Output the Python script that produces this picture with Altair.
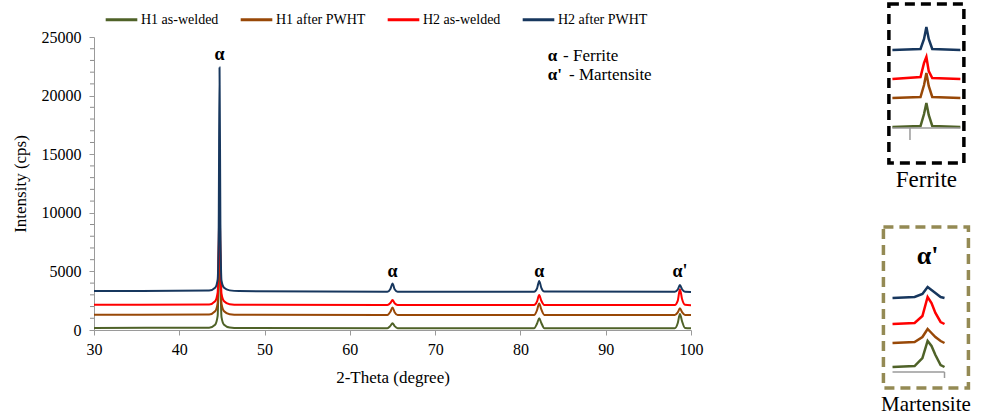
import altair as alt
import pandas as pd

# ---------------- data ----------------
series = ["H1 as-welded", "H1 after PWHT", "H2 as-welded", "H2 after PWHT"]
colors = ["#4F6228", "#984807", "#FF0000", "#17375E"]

two_theta = [30, 43.5, 44.2, 44.5, 44.62, 44.72, 44.82, 44.95, 45.25, 45.9, 47.0,
             64.4, 64.75, 65.0, 65.25, 65.6,
             81.6, 81.95, 82.2, 82.45, 82.8,
             98.1, 98.45, 98.7, 98.95, 99.3, 100]

h1_as_welded = [180, 200, 450, 1200, 5000, 9000, 4500, 1100, 450, 220, 170,
                150, 350, 570, 330, 150,
                150, 550, 1000, 600, 160,
                150, 600, 1360, 750, 170, 150]
h1_after_pwht = [1300, 1330, 1600, 2300, 6000, 10000, 5600, 2250, 1600, 1350, 1300,
                 1280, 1550, 1930, 1520, 1280,
                 1280, 1700, 2270, 1750, 1290,
                 1280, 1500, 1850, 1520, 1280, 1270]
h2_as_welded = [2150, 2180, 2450, 3200, 7000, 11000, 6500, 3100, 2450, 2200, 2150,
                2130, 2300, 2550, 2280, 2130,
                2130, 2450, 2980, 2500, 2140,
                2130, 2500, 3480, 2650, 2150, 2120]
h2_after_pwht = [3330, 3360, 3600, 4300, 8500, 22400, 9000, 4200, 3600, 3380, 3320,
                 3270, 3500, 3970, 3480, 3270,
                 3270, 3550, 4190, 3600, 3280,
                 3260, 3450, 3830, 3480, 3260, 3250]

x_ticks = [30, 40, 50, 60, 70, 80, 90, 100]
y_ticks = [0, 5000, 10000, 15000, 20000, 25000]
y_minor_ticks = [1000, 2000, 3000, 4000, 6000, 7000, 8000, 9000, 11000, 12000, 13000,
                 14000, 16000, 17000, 18000, 19000, 21000, 22000, 23000, 24000]

peak_x = [44.72, 65.0, 82.2, 98.7]
peak_y = [23500, 4950, 4950, 4950]
peak_labels = ["α", "α", "α", "α'"]

key_symbols = ["α", "α'"]
key_names = ["- Ferrite", "- Martensite"]
key_sym_x = [83.2, 83.2]
key_name_x = [85.0, 85.7]
key_y = [23350, 21800]

# inset: ferrite (offset intensity, a.u.)
ferrite_x = [43.35, 44.55, 44.7, 44.8, 44.9, 45.05, 46.25]
ferrite_h1_aw = [36, 37, 49, 60, 48, 37, 36]
ferrite_h1_pw = [65, 66, 78, 90, 77, 66, 65]
ferrite_h2_aw = [84, 86, 100, 106, 92, 85, 84]
ferrite_h2_pw = [113, 114, 124, 136, 124, 114, 113]
ferrite_axis_x = [43.35, 46.25]
ferrite_axis_y = 35
ferrite_tick_x = 44.1
ferrite_tick_y = [35, 23]

# inset: martensite (offset intensity, a.u.)
mart_x = [97.35, 98.2, 98.5, 98.7, 98.85, 99.0, 99.2, 99.35]
mart_h1_aw = [21, 22, 30, 47, 42, 33, 23, 21]
mart_h1_pw = [45, 46, 51, 59, 55, 51, 47, 45]
mart_h2_aw = [64, 65, 72, 91, 85, 75, 66, 64]
mart_h2_pw = [90, 91, 94, 101, 98, 95, 91, 90]
mart_axis_x = [97.35, 99.35]
mart_axis_y = 16
mart_tick_x = 99.35
mart_tick_y = [16, 10]
mart_label = ["α'"]
mart_label_x = [98.7]
mart_label_y = [132]

FONT = "Liberation Serif"
AXIS_GRAY = "#9A9A9A"


def long_df(xs, lists):
    rows = []
    for name, vals in zip(series, lists):
        for i, (x, y) in enumerate(zip(xs, vals)):
            rows.append({"series": name, "order": i, "two_theta": x, "intensity": y})
    return pd.DataFrame(rows)


main_df = long_df(two_theta, [h1_as_welded, h1_after_pwht, h2_as_welded, h2_after_pwht])
ferrite_df = long_df(ferrite_x, [ferrite_h1_aw, ferrite_h1_pw, ferrite_h2_aw, ferrite_h2_pw])
mart_df = long_df(mart_x, [mart_h1_aw, mart_h1_pw, mart_h2_aw, mart_h2_pw])

color_scale = alt.Scale(domain=series, range=colors)

MAIN_W, MAIN_H, MAIN_TOP = 597, 326, 33
xs_main = alt.Scale(domain=[30, 100], nice=False, zero=False)
ys_main = alt.Scale(domain=[0, 25000], nice=False, range=[MAIN_H, MAIN_TOP])

# ---------------- main chart ----------------
x_main = alt.X("two_theta:Q", scale=xs_main,
               axis=alt.Axis(title="2-Theta (degree)", values=x_ticks,
                             grid=False, tickSize=5, labelPadding=6, titlePadding=12,
                             labelFlush=False, labelOverlap=False,
                             labelFontSize=16, titleFontSize=17,
                             domainColor=AXIS_GRAY, tickColor=AXIS_GRAY))
y_main = alt.Y("intensity:Q", scale=ys_main,
               axis=alt.Axis(title="Intensity (cps)", values=y_ticks,
                             labelOverlap=False, labelFlush=False, format="d", grid=False,
                             tickSize=5, labelPadding=8, titlePadding=12, labelFontSize=16,
                             titleFontSize=17,
                             domainColor=AXIS_GRAY, tickColor=AXIS_GRAY))

lines = alt.Chart(main_df).mark_line(strokeWidth=2, interpolate="monotone").encode(
    x=x_main, y=y_main,
    color=alt.Color("series:N", scale=color_scale,
                    legend=alt.Legend(title=None, orient="none", legendX=10, legendY=-2,
                                      direction="horizontal", symbolType="stroke",
                                      symbolSize=1000, symbolStrokeWidth=3,
                                      labelFont=FONT, labelFontSize=14, labelColor="black",
                                      labelOffset=2, columnPadding=15)),
    order="order:Q",
)

minor_df = pd.DataFrame({"intensity": y_minor_ticks})
minor = alt.Chart(minor_df).mark_rule(color="#8C8C8C", strokeWidth=1).encode(
    x=alt.value(-4), x2=alt.value(0), y=y_main,
)

peaks_df = pd.DataFrame({"two_theta": peak_x, "intensity": peak_y, "label": peak_labels})
peak_text = alt.Chart(peaks_df).mark_text(font=FONT, fontSize=18, fontWeight="bold",
                                          color="black").encode(
    x=x_main, y=y_main, text="label:N")

key_sym_df = pd.DataFrame({"two_theta": key_sym_x, "intensity": key_y, "label": key_symbols})
key_name_df = pd.DataFrame({"two_theta": key_name_x, "intensity": key_y, "label": key_names})
key_sym = alt.Chart(key_sym_df).mark_text(font=FONT, fontSize=17, fontWeight="bold",
                                          align="left", color="black").encode(
    x=x_main, y=y_main, text="label:N")
key_name = alt.Chart(key_name_df).mark_text(font=FONT, fontSize=17, align="left",
                                            color="black").encode(
    x=x_main, y=y_main, text="label:N")

main = alt.layer(lines, minor, peak_text, key_sym, key_name).properties(
    width=MAIN_W, height=MAIN_H)


# ---------------- insets ----------------
def inset(df, xdom, ydom, w, h, axis_x, axis_y, tick_x, tick_y, box_color, title, tsize,
          extra=None):
    xs = alt.Scale(domain=xdom, nice=False, zero=False)
    ys = alt.Scale(domain=ydom, nice=False, zero=False)
    ln = alt.Chart(df).mark_line(strokeWidth=2.5).encode(
        x=alt.X("two_theta:Q", scale=xs, axis=None),
        y=alt.Y("intensity:Q", scale=ys, axis=None),
        color=alt.Color("series:N", scale=color_scale, legend=None),
        order="order:Q",
    )
    ax = alt.Chart(pd.DataFrame({"x": [axis_x[0]], "x2": [axis_x[1]], "y": [axis_y]})).mark_rule(
        color=AXIS_GRAY, strokeWidth=1.5).encode(
        x=alt.X("x:Q", axis=None), x2="x2:Q", y=alt.Y("y:Q", axis=None))
    tk = alt.Chart(pd.DataFrame({"x": [tick_x], "y": [tick_y[0]], "y2": [tick_y[1]]})).mark_rule(
        color=AXIS_GRAY, strokeWidth=1.5).encode(
        x=alt.X("x:Q", axis=None), y=alt.Y("y:Q", axis=None), y2="y2:Q")
    layers = [ln, ax, tk]
    if extra is not None:
        layers.append(extra)
    return alt.layer(*layers).properties(
        width=w, height=h,
        view=alt.ViewBackground(stroke=box_color, strokeDash=[10, 6], strokeWidth=3.5),
        title=alt.TitleParams(title, orient="bottom", font=FONT, fontSize=tsize,
                              fontWeight="normal", color="black", offset=6),
    )


ferrite = inset(ferrite_df, [43.2, 46.4], [0, 159], 75, 159,
                ferrite_axis_x, ferrite_axis_y, ferrite_tick_x, ferrite_tick_y,
                "black", "Ferrite", 23)

mart_text = alt.Chart(pd.DataFrame({"x": mart_label_x, "y": mart_label_y, "label": mart_label})).mark_text(
    font=FONT, fontSize=26, fontWeight="bold", color="black").encode(
    x=alt.X("x:Q", axis=None), y=alt.Y("y:Q", axis=None), text="label:N")

martensite = inset(mart_df, [97.0, 100.27], [0, 161], 85, 161,
                   mart_axis_x, mart_axis_y, mart_tick_x, mart_tick_y,
                   "#948A54", "Martensite", 21, extra=mart_text)

right = alt.vconcat(ferrite, martensite, spacing=31, center=True)

chart = alt.hconcat(main, right, spacing=176).resolve_scale(color="independent").properties(
    padding={"left": 11, "top": 2, "right": 0, "bottom": 0},
    background="white",
).configure_view(stroke=None).configure_axis(
    labelFont=FONT, titleFont=FONT, labelFontSize=16, titleFontSize=17,
    labelColor="black", titleColor="black", titleFontWeight="normal"
)

chart.save("out.html", embed_options={"renderer": "svg", "actions": False})
